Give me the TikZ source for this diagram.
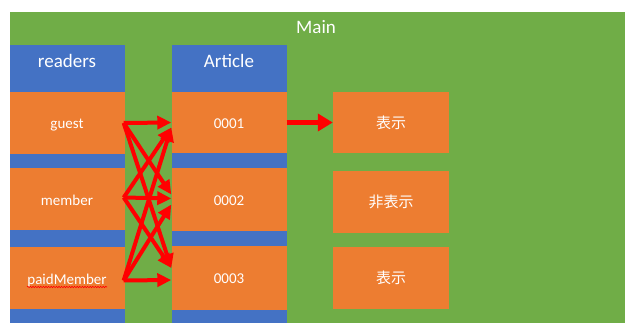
\documentclass[tikz,border=0pt]{standalone}
\usepackage{fontspec}
\setmainfont{Carlito}
\newfontfamily\cjk{Noto Sans CJK JP}
\usetikzlibrary{arrows.meta,decorations.pathmorphing}
\definecolor{mgreen}{HTML}{70AD47}
\definecolor{mblue}{HTML}{4472C4}
\definecolor{morange}{HTML}{ED7D31}
\definecolor{mred}{HTML}{FF0000}
\tikzset{
  bluecol/.style={fill=mblue, draw=none, inner sep=0pt, minimum width=115pt, minimum height=278pt},
  obox/.style={fill=morange, draw=none, inner sep=0pt, minimum width=115pt, minimum height=62pt,
    text=white, font=\fontsize{15}{15}\selectfont, text height=12pt, text depth=0pt},
  rbox/.style={obox, minimum width=116pt, font=\fontsize{15}{15}\selectfont\cjk},
  headtext/.style={text=white, anchor=base, inner sep=0pt, font=\fontsize{19}{19}\selectfont},
  rarr/.style={mred, line width=4pt, -{Triangle[length=14pt,width=13pt]}},
  barr/.style={mred, line width=5pt, -{Triangle[length=15pt,width=17pt]}}
}
\begin{document}
\begin{tikzpicture}[x=1pt,y=-1pt]
\useasboundingbox (0,0) rectangle (625,323);
\fill[white] (0,0) rectangle (625,323);
\node[fill=mgreen, draw=none, inner sep=0pt, minimum width=615pt, minimum height=311pt] (main) at (317.5,167.5) {};
\node[headtext] (maint) at (316,34) {Main};
% columns
\node[bluecol] (colR) at (67,184) {};
\node[bluecol] (colA) at (229,184) {};
\node[headtext] (readt) at (67,68) {readers};
\node[headtext] (artt) at (229,68) {Article};
% readers
\node[obox] (g) at (67,123) {guest};
\node[obox] (m) at (67,199.5) {member};
\node[obox] (p) at (67,278.5) {paidMember};
% articles
\node[obox, minimum height=61pt] (a1) at (229,122.5) {0001};
\node[obox, minimum height=63pt] (a2) at (229,199.5) {0002};
\node[obox, minimum height=64pt] (a3) at (229,278) {0003};
% results
\node[rbox, minimum height=61pt] (r1) at (391,122.5) {表示};
\node[rbox, minimum height=62pt] (r2) at (391,202) {非表示};
\node[rbox, minimum height=62pt] (r3) at (391,278) {表示};
% spell-check underline
\coordinate (u1) at (27,287);
\coordinate (u2) at (107,287);
\draw[mred, line width=0.6pt, decorate, decoration={snake, amplitude=0.7pt, segment length=2.6pt}] (u1) -- (u2);
% arrows
\draw[rarr] ([xshift=-1pt]g.east) -- (a1.west);
\draw[rarr] ([xshift=-1pt]g.east) -- ([yshift=5pt]a2.west);
\draw[rarr] ([xshift=-1pt]g.east) -- ([yshift=10pt]a3.west);
\draw[rarr] ([xshift=-1pt,yshift=2pt]m.east) -- ([yshift=-5pt]a1.west);
\draw[rarr] ([xshift=-1pt,yshift=2pt]m.east) -- ([yshift=1pt]a2.west);
\draw[rarr] ([xshift=-1pt,yshift=2pt]m.east) -- ([yshift=10pt]a3.west);
\draw[rarr] ([xshift=-1pt,yshift=-2pt]p.east) -- ([yshift=-5pt]a1.west);
\draw[rarr] ([xshift=-1pt,yshift=-2pt]p.east) -- ([yshift=-5pt]a2.west);
\draw[rarr] ([xshift=-1pt,yshift=-2pt]p.east) -- ([yshift=-2pt]a3.west);
\draw[barr] (a1.east) -- (r1.west);
\end{tikzpicture}
\end{document}
